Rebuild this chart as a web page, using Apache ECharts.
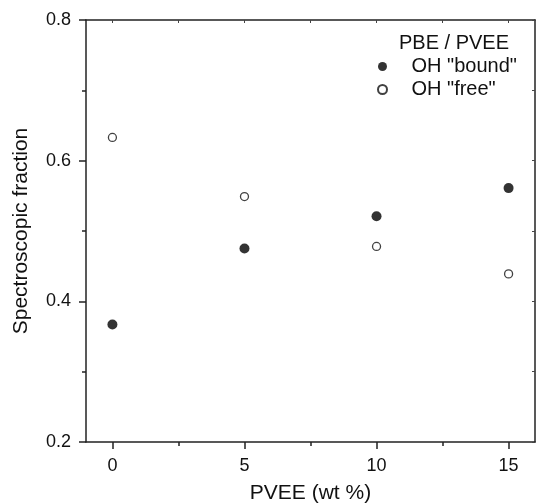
<!DOCTYPE html>
<html>
<head>
<meta charset="utf-8">
<script src="https://cdn.jsdelivr.net/npm/echarts@6/dist/echarts.min.js"></script>
<style>
html, body { margin: 0; padding: 0; background: #fff; }
#chart-container { width: 536px; height: 503px; }
</style>
</head>
<body>
<div id="chart-container"></div>
<script>
// data
var pvee = [0, 5, 10, 15];
var boundFrac = [0.367, 0.475, 0.521, 0.561];
var freeFrac = [0.633, 0.549, 0.478, 0.439];

var xMajorTicks = [0, 5, 10, 15];
var xMinorTicks = [2.5, 7.5, 12.5];
var xTopTicks = [0, 2.5, 5, 7.5, 10, 12.5, 15];

var font = "Liberation Sans, Arial, sans-serif";

function pairs(xs, ys) {
    return xs.map(function (x, i) { return [x, ys[i]]; });
}

var dom = document.getElementById("chart-container");
var myChart = echarts.init(dom, null, { renderer: "canvas" });

var axisLine = { show: true, onZero: false, lineStyle: { color: "#222", width: 1.5 } };

var option = {
    animation: false,
    backgroundColor: "#fff",
    grid: { left: 86, right: 1, top: 20, bottom: 61, outerBoundsMode: "none", containLabel: false },
    graphic: [{
        type: "text",
        left: 399,
        top: 33,
        style: { text: "PBE / PVEE", font: "20px " + font, fill: "#111" }
    }],
    legend: {
        left: 372,
        top: 50,
        orient: "vertical",
        itemWidth: 48,
        itemHeight: 9,
        itemGap: 0,
        textStyle: { fontFamily: font, fontSize: 20, color: "#111", lineHeight: 23 },
        data: ['OH "bound"', 'OH "free"']
    },
    xAxis: [{
        type: "value",
        position: "bottom",
        min: -1,
        max: 16,
        axisLine: axisLine,
        axisTick: { show: true, inside: false, length: 7, customValues: xMajorTicks, lineStyle: { color: "#222", width: 1.5 } },
        axisLabel: { customValues: xMajorTicks, fontFamily: font, fontSize: 18, color: "#111", margin: 15 },
        splitLine: { show: false },
        name: "PVEE (wt %)",
        nameLocation: "middle",
        nameGap: 41,
        nameTextStyle: { fontFamily: font, fontSize: 21, color: "#111" }
    }, {
        type: "value",
        position: "bottom",
        min: -1,
        max: 16,
        axisLine: { show: false },
        axisTick: { show: true, inside: false, length: 4, customValues: xMinorTicks, lineStyle: { color: "#222", width: 1.5 } },
        axisLabel: { show: false },
        splitLine: { show: false }
    }, {
        type: "value",
        position: "top",
        min: -1,
        max: 16,
        axisLine: axisLine,
        axisTick: { show: true, inside: true, length: 3, customValues: xTopTicks, lineStyle: { color: "#444", width: 1 } },
        axisLabel: { show: false },
        splitLine: { show: false }
    }],
    yAxis: [{
        type: "value",
        position: "left",
        min: 0.2,
        max: 0.8,
        interval: 0.2,
        axisLine: axisLine,
        axisTick: { show: true, inside: false, length: 7, lineStyle: { color: "#222", width: 1.5 } },
        minorTick: { show: true, splitNumber: 2, length: 4, lineStyle: { color: "#222", width: 1.5 } },
        axisLabel: {
            fontFamily: font, fontSize: 18, color: "#111", margin: 15,
            formatter: function (v) { return v.toFixed(1); }
        },
        splitLine: { show: false },
        name: "Spectroscopic fraction",
        nameLocation: "middle",
        nameGap: 54,
        nameTextStyle: { fontFamily: font, fontSize: 21, color: "#111" }
    }, {
        type: "value",
        position: "right",
        min: 0.2,
        max: 0.8,
        interval: 0.1,
        axisLine: axisLine,
        axisTick: { show: true, inside: true, length: 3, lineStyle: { color: "#444", width: 1 } },
        axisLabel: { show: false },
        splitLine: { show: false }
    }],
    series: [{
        name: 'OH "bound"',
        type: "scatter",
        symbol: "circle",
        symbolSize: 10,
        itemStyle: { color: "#000" },
        data: pairs(pvee, boundFrac)
    }, {
        name: 'OH "free"',
        type: "scatter",
        symbol: "circle",
        symbolSize: 8,
        itemStyle: { color: "#fff", borderColor: "#111", borderWidth: 1.3 },
        data: pairs(pvee, freeFrac)
    }]
};

myChart.setOption(option);
window.addEventListener("resize", myChart.resize);
</script>
</body>
</html>
